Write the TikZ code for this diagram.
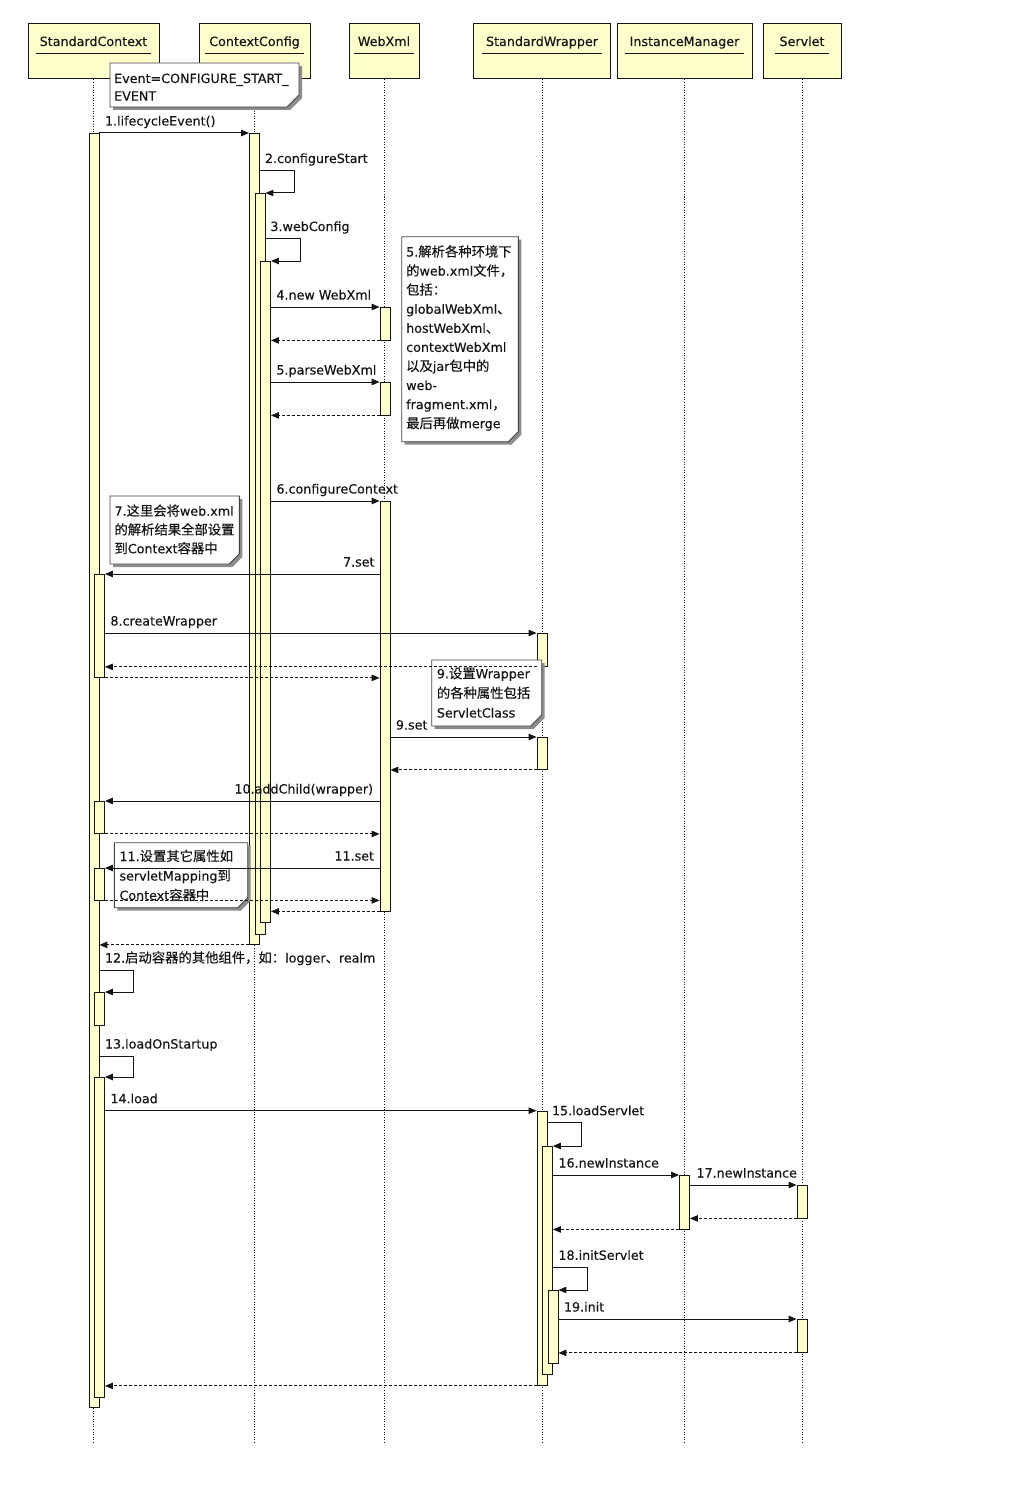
\documentclass[tikz,border=0pt]{standalone}
\usepackage{fontspec}
\setmainfont{DejaVu Sans}[FakeBold=0.25]
\newfontfamily\cjkfont{Noto Sans CJK SC}[Scale=1.05,FakeBold=0.25]
\newcommand{\zh}[1]{{\cjkfont #1}}
\usetikzlibrary{arrows.meta}
\definecolor{uyel}{RGB}{255,255,204}
\definecolor{ink}{RGB}{20,20,20}
\tikzset{
 head/.style={draw=ink, line width=1pt, fill=uyel, inner sep=0, minimum height=55pt},
 headtxt/.style={inner xsep=4pt, inner ysep=0, anchor=base, text=ink},
 uline/.style={draw=ink, line width=1pt},
 life/.style={draw=ink, line width=0.9pt, dash pattern=on 1pt off 1.6pt},
 bar/.style={draw=ink, line width=0.9pt, fill=uyel, inner sep=0, minimum width=10pt, anchor=north},
 msg/.style={draw=ink, line width=1pt, -{Triangle[length=8pt,width=6.5pt]}},
 ret/.style={msg, dash pattern=on 3pt off 2pt},
 lbr/.style={anchor=base west, inner sep=0, text=ink, xshift=5pt, yshift=7.5pt},
 lbl/.style={anchor=base east, inner sep=0, text=ink, xshift=-4.5pt, yshift=7.5pt},
 note/.style={draw=ink!80, line width=0.9pt, fill=white},
 notesh/.style={fill=black!45},
 ntxt/.style={anchor=base west, inner sep=0, text=ink},
}
\newcommand{\notebox}[5]{%
 \fill[notesh, shift={(3,3)}] (#1,#2) -- (#3,#2) -- (#3,#4-#5) -- (#3-#5,#4) -- (#1,#4) -- cycle;
 \draw[note] (#1,#2) -- (#3,#2) -- (#3,#4-#5) -- (#3-#5,#4) -- (#1,#4) -- cycle;}
\begin{document}
\begin{tikzpicture}[x=1pt,y=-1pt,font=\fontsize{12.7}{15.2}\selectfont]
\useasboundingbox[fill=white] (0,0) rectangle (1012,1498);
\coordinate (ul) at (0,54);
\coordinate (lend) at (0,1443);
% heads
\node[head, minimum width=131pt] (hsc) at (93.5,51.5) {};
\node[head, minimum width=111pt] (hcc) at (254.5,51.5) {};
\node[head, minimum width=70pt] (hwx) at (384,51.5) {};
\node[head, minimum width=137.7pt] (hsw) at (542,51.5) {};
\node[head, minimum width=135pt] (him) at (684.5,51.5) {};
\node[head, minimum width=78pt] (hsv) at (802,51.5) {};
\node[headtxt] (tsc) at (93.5,46) {StandardContext};
\node[headtxt] (tcc) at (254.5,46) {ContextConfig};
\node[headtxt] (twx) at (384,46) {WebXml};
\node[headtxt] (tsw) at (542,46) {StandardWrapper};
\node[headtxt] (tim) at (684.5,46) {InstanceManager};
\node[headtxt] (tsv) at (802,46) {Servlet};
\foreach \n in {tsc,tcc,twx,tsw,tim,tsv} \draw[uline] (\n.west |- ul) -- (\n.east |- ul);
% lifelines
\foreach \n in {hsc,hcc,hwx,hsw,him,hsv} \draw[life] (\n.south) -- (\n.south |- lend);
% activation bars
\node[bar, minimum height=1274pt] (sc0) at (94,133) {};
\node[bar, minimum height=103pt] (sc1) at (99.5,574) {};
\node[bar, minimum height=32pt] (sc2) at (99.5,801) {};
\node[bar, minimum height=31.5pt] (sc3) at (99.5,868) {};
\node[bar, minimum height=33pt] (sc4) at (99.5,992) {};
\node[bar, minimum height=320pt] (sc5) at (99.5,1077) {};
\node[bar, minimum height=811pt] (cc0) at (254.5,133) {};
\node[bar, minimum height=741pt] (cc1) at (260,193) {};
\node[bar, minimum height=661pt] (cc2) at (265.5,261) {};
\node[bar, minimum height=32.5pt] (wx0) at (385,307) {};
\node[bar, minimum height=32.5pt] (wx1) at (385,382) {};
\node[bar, minimum height=409.5pt] (wx2) at (385,501) {};
\node[bar, minimum height=33pt] (sw0) at (542,633) {};
\node[bar, minimum height=32pt] (sw1) at (542,737) {};
\node[bar, minimum height=274.3pt] (sw2) at (542,1110.7) {};
\node[bar, minimum height=228pt] (sw3) at (547.5,1146) {};
\node[bar, minimum height=73pt] (sw4) at (553,1290) {};
\node[bar, minimum height=53.5pt] (im0) at (684.5,1175) {};
\node[bar, minimum height=32.5pt] (sv0) at (802,1185) {};
\node[bar, minimum height=33pt] (sv1) at (802,1319) {};
% notes
\notebox{110}{63}{299}{107}{12}
\node[ntxt] (ne1) at (114,83) {Event=CONFIGURE\_START\_};
\node[ntxt] (ne2) at (114,100.6) {EVENT};
\notebox{401.7}{236.7}{518.3}{441.7}{10}
\foreach \t [count=\i from 0] in {{5.\zh{解析各种环境下}},{\zh{的}web.xml\zh{文件，}},{\zh{包括：}},{globalWebXml\zh{、}},{hostWebXml\zh{、}},{contextWebXml},{\zh{以及}jar\zh{包中的}},{web-},{fragment.xml\zh{，}},{\zh{最后再做}merge}}
  \node[ntxt] (n5l\i) at (406,{256.5+19.07*\i}) {\t};
\notebox{110}{496}{239.3}{564}{10}
\foreach \t [count=\i from 0] in {{7.\zh{这里会将}web.xml},{\zh{的解析结果全部设置}},{\zh{到}Context\zh{容器中}}}
  \node[ntxt] (n7l\i) at (114.3,{515.7+18.8*\i}) {\t};
\notebox{431.7}{660}{541.7}{726}{11}
\foreach \t [count=\i from 0] in {{9.\zh{设置}Wrapper},{\zh{的各种属性包括}},{ServletClass}}
  \node[ntxt] (n9l\i) at (436.7,{678.3+19.6*\i}) {\t};
\notebox{114.3}{842.7}{247.7}{907.7}{10}
\foreach \t [count=\i from 0] in {{11.\zh{设置其它属性如}},{servletMapping\zh{到}},{Context\zh{容器中}}}
  \node[ntxt] (n11l\i) at (119.3,{861+19.5*\i}) {\t};
% messages
\draw[msg] (sc0.north east) node[lbr]{1.lifecycleEvent()} -- (cc0.north west);
\coordinate (l2) at (294,170.5);
\draw[msg] (cc0.east |- l2) node[lbr,xshift=-0.5pt]{2.configureStart} -- (l2) |- (cc1.north east);
\coordinate (l3) at (300,238.5);
\draw[msg] (cc1.east |- l3) node[lbr,xshift=-0.5pt]{3.webConfig} -- (l3) |- (cc2.north east);
\draw[msg] (cc2.east |- wx0.north west) node[lbr]{4.new WebXml} -- (wx0.north west);
\draw[ret] (wx0.south west) -- (cc2.east |- wx0.south west);
\draw[msg] (cc2.east |- wx1.north west) node[lbr]{5.parseWebXml} -- (wx1.north west);
\draw[ret] (wx1.south west) -- (cc2.east |- wx1.south west);
\draw[msg] (cc2.east |- wx2.north west) node[lbr]{6.configureContext} -- (wx2.north west);
\draw[msg] (wx2.west |- sc1.north east) node[lbl]{7.set} -- (sc1.north east);
\draw[msg] (sc1.east |- sw0.north west) node[lbr]{8.createWrapper} -- (sw0.north west);
\draw[ret] (sw0.south west) -- (sc1.east |- sw0.south west);
\draw[ret] (sc1.south east) -- (wx2.west |- sc1.south east);
\draw[msg] (wx2.east |- sw1.north west) node[lbr]{9.set} -- (sw1.north west);
\draw[ret] (sw1.south west) -- (wx2.east |- sw1.south west);
\draw[msg] (wx2.west |- sc2.north east) node[lbl,xshift=-1.5pt]{10.addChild(wrapper)} -- (sc2.north east);
\draw[ret] (sc2.south east) -- (wx2.west |- sc2.south east);
\draw[msg] (wx2.west |- sc3.north east) node[lbl,xshift=-0.5pt]{11.set} -- (sc3.north east);
\draw[ret] (sc3.south east) -- (wx2.west |- sc3.south east);
\draw[ret] (wx2.south west) -- (cc2.east |- wx2.south west);
\draw[ret] (cc0.south west) -- (sc0.east |- cc0.south west);
\coordinate (l12) at (133.3,970);
\draw[msg] (sc0.east |- l12) node[lbr]{12.\zh{启动容器的其他组件，如：}logger\zh{、}realm} -- (l12) |- (sc4.north east);
\coordinate (l13) at (133.3,1056);
\draw[msg] (sc0.east |- l13) node[lbr]{13.loadOnStartup} -- (l13) |- (sc5.north east);
\draw[msg] (sc5.east |- sw2.north west) node[lbr]{14.load} -- (sw2.north west);
\draw[ret] (sw2.south west) -- (sc5.east |- sw2.south west);
\coordinate (l15) at (581,1122.7);
\draw[msg] (sw2.east |- l15) node[lbr,xshift=-1pt]{15.loadServlet} -- (l15) |- (sw3.north east);
\draw[msg] (sw3.east |- im0.north west) node[lbr]{16.newInstance} -- (im0.north west);
\draw[ret] (im0.south west) -- (sw3.east |- im0.south west);
\draw[msg] (im0.east |- sv0.north west) node[lbr,xshift=1pt]{17.newInstance} -- (sv0.north west);
\draw[ret] (sv0.south west) -- (im0.east |- sv0.south west);
\coordinate (l18) at (587.3,1267.3);
\draw[msg] (sw3.east |- l18) node[lbr]{18.initServlet} -- (l18) |- (sw4.north east);
\draw[msg] (sw4.east |- sv1.north west) node[lbr]{19.init} -- (sv1.north west);
\draw[ret] (sv1.south west) -- (sw4.east |- sv1.south west);
\end{tikzpicture}
\end{document}
